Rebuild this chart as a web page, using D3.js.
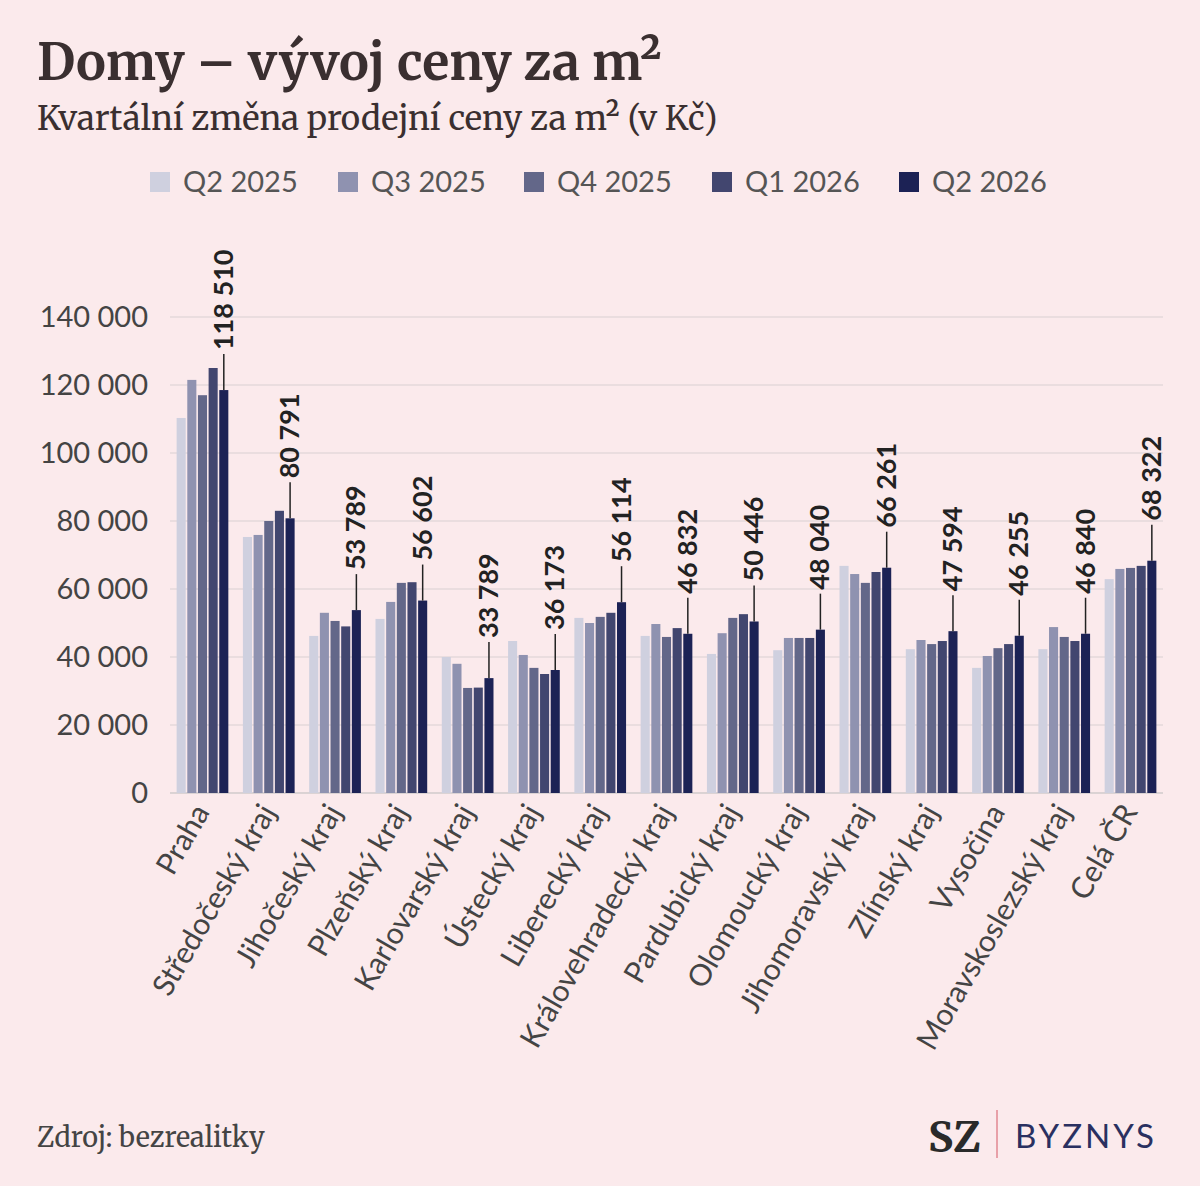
<!DOCTYPE html><html><head><meta charset="utf-8">
<script src="https://cdn.jsdelivr.net/npm/d3@7"></script>
<style>body{margin:0;background:#fbeaec}svg{display:block}</style></head><body>
<script>
const categories=["Praha","Středočeský kraj","Jihočeský kraj","Plzeňský kraj","Karlovarský kraj","Ústecký kraj","Liberecký kraj","Královehradecký kraj","Pardubický kraj","Olomoucký kraj","Jihomoravský kraj","Zlínský kraj","Vysočina","Moravskoslezský kraj","Celá ČR"];
const seriesNames=["Q2 2025","Q3 2025","Q4 2025","Q1 2026","Q2 2026"];
const s0=[110300,75300,46200,51200,40000,44700,51500,46200,40900,42000,66800,42300,36800,42300,62900];
const s1=[121500,75900,53000,56200,38000,40600,50000,49700,47000,45600,64400,45000,40300,48800,65900];
const s2=[117000,80000,50600,61800,30900,36800,51800,45900,51500,45600,61800,43800,42600,45900,66200];
const s3=[125000,83000,49000,62000,31000,35000,53000,48500,52600,45600,65000,44700,43800,44700,66800];
const s4=[118510,80791,53789,56602,33789,36173,56114,46832,50446,48040,66261,47594,46255,46840,68322];
const series=[s0,s1,s2,s3,s4];
const colors=["#cfd0df","#8f92b0","#636789","#42466f","#1c2255"];
const yTicks=[0,20000,40000,60000,80000,100000,120000,140000];
const fmtS=v=>d3.format(",")(v).replace(/,/g," ");

const svg=d3.select("body").append("svg").attr("width",1200).attr("height",1186);
svg.append("rect").attr("width",1200).attr("height",1186).attr("fill","#fbeaec");
const serif="Merriweather, 'DejaVu Serif', serif", sans="Lato, 'Noto Sans', sans-serif";
svg.append("text").attr("x",37).attr("y",80).attr("font-family",serif).attr("font-weight","bold").attr("font-size",50).attr("fill","#3a2f30").text("Domy – vývoj ceny za m²");
svg.append("text").attr("x",37).attr("y",130).attr("font-family",serif).attr("font-size",33).attr("fill","#3a2f30").text("Kvartální změna prodejní ceny za m² (v Kč)");

const lx=[150,338,524,712,899];
seriesNames.forEach((n,i)=>{
 svg.append("rect").attr("x",lx[i]).attr("y",172).attr("width",20).attr("height",20).attr("fill",colors[i]);
 svg.append("text").attr("x",lx[i]+33).attr("y",192).attr("font-family",sans).attr("font-size",29).attr("fill","#555").text(n);
});

const x=d3.scaleBand().domain(categories).range([170,1163]).paddingInner(0.22).paddingOuter(0.1);
const y=d3.scaleLinear().domain([0,140000]).range([793,317]);
const xs=d3.scaleBand().domain(d3.range(5)).range([0,x.bandwidth()]).paddingInner(0.15);

const g=svg.append("g");
yTicks.forEach(t=>{
 g.append("line").attr("x1",170).attr("x2",1163).attr("y1",y(t)).attr("y2",y(t)).attr("stroke",t===0?"#bbb":"#d9d0d2").attr("stroke-width",1);
 g.append("text").attr("x",148).attr("y",y(t)+10).attr("text-anchor","end").attr("font-family",sans).attr("font-size",29).attr("fill","#444").text(fmtS(t));
});
categories.forEach((c,ci)=>{
 series.forEach((s,si)=>{
  g.append("rect").attr("x",x(c)+xs(si)).attr("y",y(s[ci])).attr("width",xs.bandwidth()).attr("height",y(0)-y(s[ci])).attr("fill",colors[si]);
 });
 const lxp=x(c)+xs(4)+xs.bandwidth()/2, top=y(s4[ci]);
 g.append("line").attr("x1",lxp).attr("x2",lxp).attr("y1",top).attr("y2",top-36).attr("stroke","#222").attr("stroke-width",1.5);
 g.append("text").attr("transform",`translate(${lxp+9},${top-40}) rotate(-90)`).attr("font-family",sans).attr("font-weight","bold").attr("font-size",27).attr("fill","#222").text(fmtS(s4[ci]));
 const cx=x(c)+x.bandwidth()/2;
 g.append("text").attr("transform",`translate(${cx+8},${812}) rotate(-60)`).attr("text-anchor","end").attr("font-family",sans).attr("font-size",30).attr("fill","#444").text(c);
});

svg.append("text").attr("x",37).attr("y",1147).attr("font-family",serif).attr("font-size",27).attr("fill","#444").text("Zdroj: bezrealitky");
svg.append("text").attr("x",928).attr("y",1152).attr("font-family",serif).attr("font-weight","bold").attr("font-size",42).attr("fill","#2a2a2a").text("SZ");
svg.append("line").attr("x1",997).attr("x2",997).attr("y1",1110).attr("y2",1158).attr("stroke","#e8a0a8").attr("stroke-width",2);
svg.append("text").attr("x",1015).attr("y",1148).attr("font-family",sans).attr("font-size",33).attr("letter-spacing",3).attr("fill","#2a3060").text("BYZNYS");
</script></body></html>
